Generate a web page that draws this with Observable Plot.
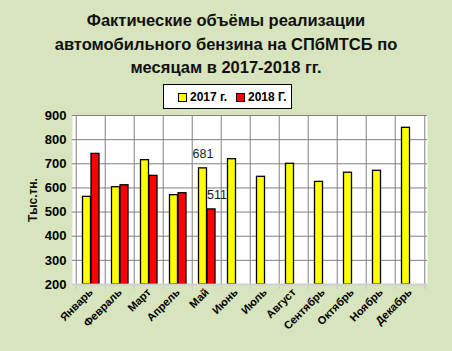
<!DOCTYPE html>
<html><head><meta charset="utf-8">
<script src="https://cdn.jsdelivr.net/npm/d3@7"></script>
<script src="https://cdn.jsdelivr.net/npm/@observablehq/plot@0.6"></script>
<style>
html,body{margin:0;padding:0;}
#wrap{position:relative;width:452px;height:351px;background:#d7e4bd;overflow:hidden;font-family:"Liberation Sans",Arial,sans-serif;}
#title{position:absolute;left:0;top:9px;width:452px;text-align:center;font-weight:bold;font-size:16.5px;line-height:23.5px;color:#111;}
#legend{position:absolute;left:163px;top:84px;width:127px;height:23px;background:#fff;border:1px solid #000;font-weight:bold;font-size:12px;}
.li{position:absolute;top:5px;display:flex;align-items:center;}
.sw{width:7px;height:7px;border:1px solid #000;margin-right:3px;}
#chart{position:absolute;left:0;top:105px;}
</style></head>
<body><div id="wrap">
<div id="title">Фактические объёмы реализации<br>автомобильного бензина на СПбМТСБ по<br>месяцам в 2017-2018 гг.</div>
<div id="legend">
<div class="li" style="left:14px"><div class="sw" style="background:#ffff00"></div>2017 г.</div>
<div class="li" style="left:72px"><div class="sw" style="background:#ff0000"></div>2018 Г.</div>
</div>
<div id="chart"></div>
</div>
<script>
const months = ["Январь","Февраль","Март","Апрель","Май","Июнь","Июль","Август","Сентябрь","Октябрь","Ноябрь","Декабрь"];
const values2017 = [563,603,715,570,681,719,646,700,625,663,671,849];
const values2018 = [741,611,650,578,511];
const yTicks = [200,300,400,500,600,700,800,900];
const label2017 = [{m:"Май", v:681}];
const label2018 = [{m:"Май", v:511}];

const d17 = months.map((m,i)=>({m, v: values2017[i]}));
const d18 = values2018.map((v,i)=>({m: months[i], v}));

const W = 452, H = 246, mL = 72, mR = 25, mT = 10, mB = 67;
const bw = (W - mL - mR) / months.length;

const chart = Plot.plot({
  width: W, height: H,
  marginLeft: mL, marginRight: mR, marginTop: mT, marginBottom: mB,
  style: {background: "transparent", fontFamily: "Liberation Sans, Arial, sans-serif"},
  x: {domain: months, padding: 0, label: null},
  y: {domain: [200, 900], label: null},
  marks: [
    Plot.frame({fill: "#ffffff", stroke: "none"}),
    Plot.ruleY(yTicks, {y: d => d, stroke: "#808080", strokeWidth: 1, strokeOpacity: 1}),
    Plot.ruleX(months, {x: d => d, dx: -bw/2, stroke: "#808080", strokeWidth: 1, strokeOpacity: 1}),
    Plot.ruleX(months, {x: d => d, dx: -bw/2, y1: 200, y2: 200, insetBottom: -5, stroke: "#c8c8c8"}),
    Plot.ruleX(["Декабрь"], {x: d => d, dx: bw/2, stroke: "#808080", strokeWidth: 1}),
    Plot.ruleX(["Декабрь"], {x: d => d, dx: bw/2, y1: 200, y2: 200, insetBottom: -5, stroke: "#c8c8c8"}),
    Plot.barY(d17, {x: "m", y1: 200, y2: "v", fill: "#ffff00", stroke: "#000", strokeWidth: 1.3, insetLeft: 6.5, insetRight: 14.5}),
    Plot.barY(d18, {x: "m", y1: 200, y2: "v", fill: "#ff0000", stroke: "#000", strokeWidth: 1.3, insetLeft: 15, insetRight: 6}),
    Plot.ruleY([200], {stroke: "#d0d0d0", strokeWidth: 2}),
    Plot.text(label2017, {x: "m", y: "v", text: d => String(d.v), dx: -4, dy: -14, textAnchor: "middle", fontSize: 12.5, fill: "#1a1a1a"}),
    Plot.text(label2018, {x: "m", y: "v", text: d => String(d.v), dx: 10, dy: -14, textAnchor: "middle", fontSize: 12.5, fill: "#1a1a1a"}),
    Plot.axisY({ticks: yTicks, tickSize: 0, tickPadding: 6, fontSize: 13, fontWeight: "bold", label: "Тыс.тн.", labelAnchor: "center", labelArrow: "none", labelOffset: 44}),
    Plot.axisX({tickSize: 0, tickRotate: -45, tickPadding: 6, fontSize: 11, fontWeight: "bold", label: null})
  ]
});
chart.querySelectorAll("g[aria-label='y-axis label'] text").forEach(t => { t.setAttribute("font-weight","bold"); t.setAttribute("font-size","12"); t.setAttribute("fill","#111"); });
document.getElementById("chart").appendChild(chart);
</script>
</body></html>
